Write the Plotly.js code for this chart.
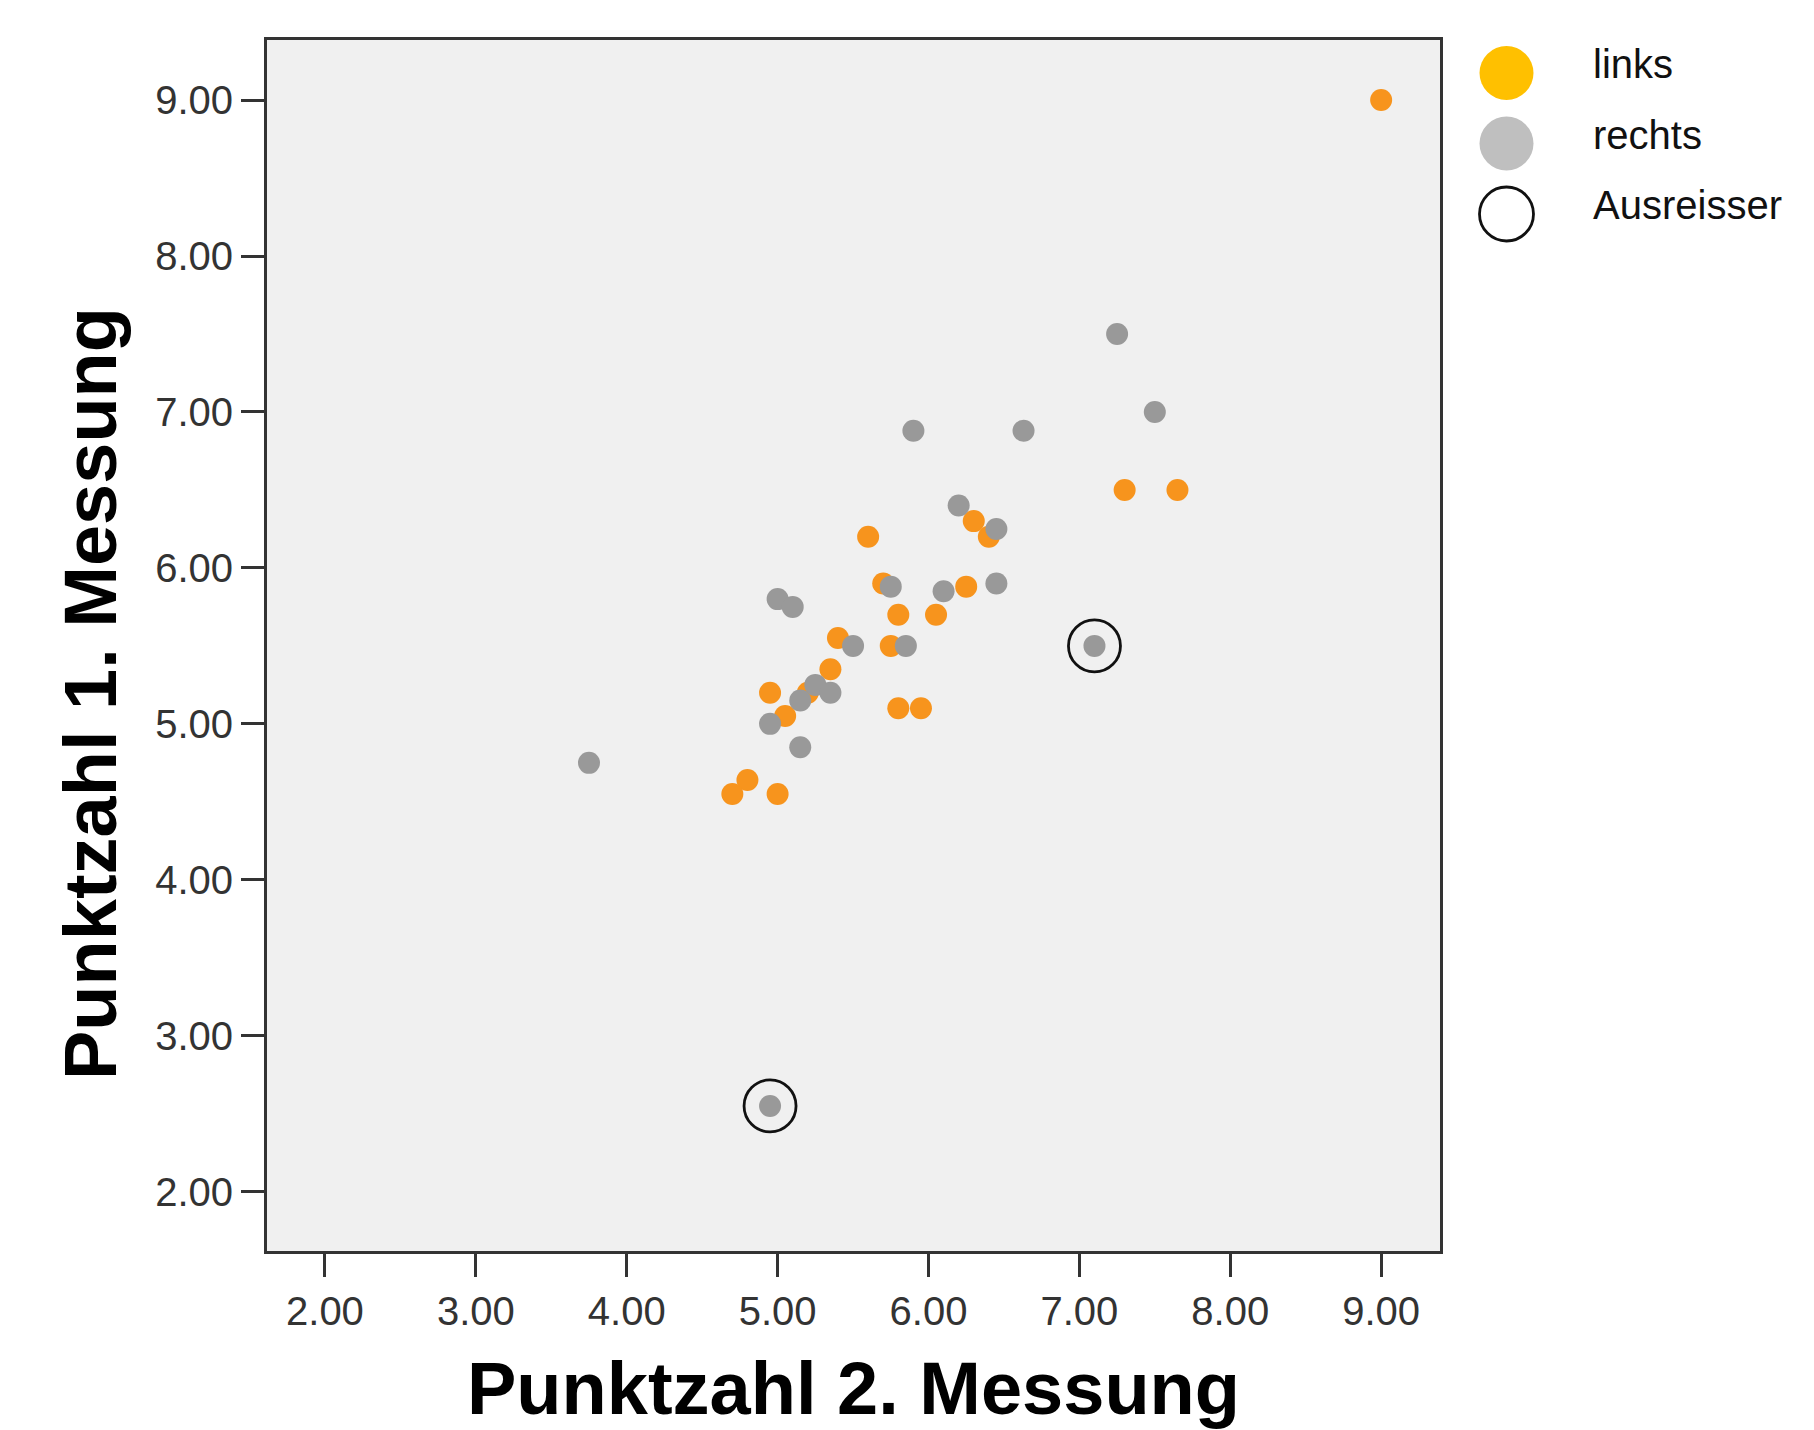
<!DOCTYPE html>
<html><head><meta charset="utf-8">
<script src="https://cdn.plot.ly/plotly-3.0.1.min.js"></script>
<style>html,body{margin:0;padding:0;background:#fff}#chart{width:1814px;height:1430px}</style>
</head><body><div id="chart"></div>
<script>
// Punktzahl 2. Messung (x) / Punktzahl 1. Messung (y)
const linksX = [9.0, 7.3, 7.65, 6.3, 6.4, 5.6, 5.7, 6.25, 5.8, 6.05, 5.4, 5.75, 5.35, 5.2, 4.95, 5.05, 5.8, 5.95, 4.8, 4.7, 5.0];
const linksY = [9.0, 6.5, 6.5, 6.3, 6.2, 6.2, 5.9, 5.88, 5.7, 5.7, 5.55, 5.5, 5.35, 5.2, 5.2, 5.05, 5.1, 5.1, 4.64, 4.55, 4.55];
const rechtsX = [7.25, 7.5, 5.9, 6.63, 6.2, 6.45, 5.75, 6.1, 6.45, 5.0, 5.1, 5.5, 5.85, 5.25, 5.35, 5.15, 4.95, 5.15, 3.75, 7.1, 4.95];
const rechtsY = [7.5, 7.0, 6.88, 6.88, 6.4, 6.25, 5.88, 5.85, 5.9, 5.8, 5.75, 5.5, 5.5, 5.25, 5.2, 5.15, 5.0, 4.85, 4.75, 5.5, 2.55];
const ausreisserX = [7.1, 4.95];
const ausreisserY = [5.5, 2.55];
const tickVals = [2, 3, 4, 5, 6, 7, 8, 9];
const tickLabels = ['2.00', '3.00', '4.00', '5.00', '6.00', '7.00', '8.00', '9.00'];
const legendLabels = ['links', 'rechts', 'Ausreisser'];
const xTitle = 'Punktzahl 2. Messung';
const yTitle = 'Punktzahl 1. Messung';

const ORANGE = '#F7941D', GRAY = '#999999';
const FONT = 'Liberation Sans, Arial, Helvetica, sans-serif';

const W = 1814, H = 1430;
const mL = 267, mR = 10, mT = 40, mB = 179;
const pw = W - mL - mR, ph = H - mT - mB;
const mainXEnd = (1440 - mL) / pw;
const legX0 = 0.78;
const legWpx = pw * (1 - legX0);
const legHpx = 260;
const legY0 = 1 - legHpx / ph;
const legMarkX = 1506.5 - (mL + legX0 * pw);
const legTextX = 1591 - (mL + legX0 * pw);
const legRowY = i => 33 + i * 70.5;

const traces = [
  {type: 'scatter', mode: 'markers', name: legendLabels[0], x: linksX, y: linksY,
   marker: {color: ORANGE, size: 22, line: {width: 0}}, showlegend: false, hoverinfo: 'x+y'},
  {type: 'scatter', mode: 'markers', name: legendLabels[1], x: rechtsX, y: rechtsY,
   marker: {color: GRAY, size: 22, line: {width: 0}}, showlegend: false, hoverinfo: 'x+y'},
  {type: 'scatter', mode: 'markers', name: legendLabels[2], x: ausreisserX, y: ausreisserY,
   marker: {symbol: 'circle-open', color: '#111', size: 52, line: {width: 2.8, color: '#111'}},
   showlegend: false, hoverinfo: 'x+y'},
  // custom legend symbols
  {type: 'scatter', mode: 'markers', xaxis: 'x2', yaxis: 'y2', x: [legMarkX], y: [legRowY(0)],
   marker: {color: '#FFC000', size: 54}, showlegend: false, hoverinfo: 'skip', cliponaxis: false},
  {type: 'scatter', mode: 'markers', xaxis: 'x2', yaxis: 'y2', x: [legMarkX], y: [legRowY(1)],
   marker: {color: '#BFBFBF', size: 54}, showlegend: false, hoverinfo: 'skip', cliponaxis: false},
  {type: 'scatter', mode: 'markers', xaxis: 'x2', yaxis: 'y2', x: [legMarkX], y: [legRowY(2)],
   marker: {symbol: 'circle-open', color: '#111', size: 54, line: {width: 2.8, color: '#111'}},
   showlegend: false, hoverinfo: 'skip', cliponaxis: false}
];

const annotations = legendLabels.map((t, i) => ({
  xref: 'x2', yref: 'y2', x: legTextX, y: legRowY(i) - 9, text: t, showarrow: false,
  xanchor: 'left', yanchor: 'middle', font: {family: FONT, size: 40, color: '#111'}
}));
// y axis title (placed as rotated text, slightly below the axis centre as in the original)
annotations.push({
  xref: 'paper', yref: 'paper', x: (90 - mL) / pw, y: (H - mB - 694) / ph,
  text: '<b>' + yTitle + '</b>', textangle: -90, showarrow: false,
  xanchor: 'center', yanchor: 'middle', font: {family: FONT, size: 74, color: '#000'}
});

const axisCommon = {
  showline: true, mirror: true, linecolor: '#333', linewidth: 3,
  showgrid: false, zeroline: false,
  ticks: 'outside', ticklen: 23, tickwidth: 3, tickcolor: '#333',
  tickmode: 'array', tickvals: tickVals, ticktext: tickLabels,
  tickfont: {family: FONT, size: 40, color: '#333'}
};

const layout = {
  width: W, height: H,
  margin: {l: mL, r: mR, t: mT, b: mB},
  paper_bgcolor: '#ffffff', plot_bgcolor: 'rgba(0,0,0,0)',
  showlegend: false,
  xaxis: Object.assign({}, axisCommon, {
    domain: [0, mainXEnd], range: [1.616, 9.39],
    title: {text: '<b>' + xTitle + '</b>', font: {family: FONT, size: 74, color: '#000'}, standoff: 32}
  }),
  yaxis: Object.assign({}, axisCommon, {
    domain: [0, 1], range: [1.62, 9.385]
  }),
  xaxis2: {domain: [legX0, 1], range: [0, legWpx], visible: false, anchor: 'y2', fixedrange: true},
  yaxis2: {domain: [legY0, 1], range: [legHpx, 0], visible: false, anchor: 'x2', fixedrange: true},
  shapes: [{type: 'rect', xref: 'x domain', yref: 'y domain', x0: 0, x1: 1, y0: 0, y1: 1,
            fillcolor: '#F0F0F0', line: {width: 0}, layer: 'below'}],
  annotations: annotations,
  font: {family: FONT}
};

Plotly.newPlot('chart', traces, layout, {displayModeBar: false, staticPlot: true});
</script>
</body></html>
